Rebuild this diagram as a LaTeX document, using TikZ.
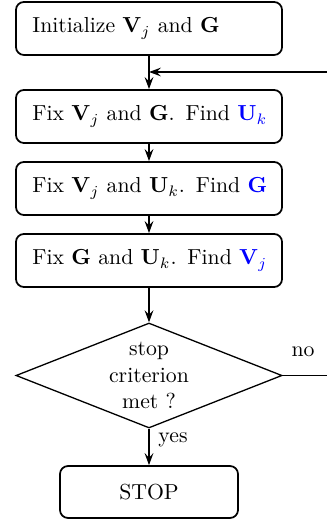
\documentclass[tikz,border=0pt]{standalone}
\usetikzlibrary{arrows.meta,shapes.geometric}
\hbadness=10000 \hfuzz=20pt
\begin{document}
\begin{tikzpicture}[x=0.46pt,y=-0.46pt,
  stepbox/.style={draw,thick,rounded corners=3.7pt,minimum width=122.4pt,minimum height=24.4pt,inner ysep=0pt,inner xsep=7.6pt,text width=107.2pt,align=left},
  decbox/.style={draw,semithick,diamond,aspect=2.53,minimum width=122.4pt,minimum height=48.3pt,inner sep=0pt,align=center},
  arr/.style={thick,-{Stealth[length=5.5pt,width=4pt,inset=2pt]}},
  fb/.style={semithick,-{Stealth[length=5.5pt,width=4pt,inset=2pt]}}]
\useasboundingbox (0,0) rectangle (326,523);
\node[stepbox] (b1) at (149,28.5) {\mbox{Initialize $\mathbf{V}_j$ and $\mathbf{G}$}};
\node[stepbox] (b2) at (149,116.5) {\mbox{Fix $\mathbf{V}_j$ and $\mathbf{G}$. Find \textcolor{blue}{$\mathbf{U}_k$}}};
\node[stepbox] (b3) at (149,188.5) {\mbox{Fix $\mathbf{V}_j$ and $\mathbf{U}_k$. Find \textcolor{blue}{$\mathbf{G}$}}};
\node[stepbox] (b4) at (149,260.5) {\mbox{Fix $\mathbf{G}$ and $\mathbf{U}_k$. Find \textcolor{blue}{$\mathbf{V}_j$}}};
\node[decbox] (dec) at (149,375.5) {stop\\criterion\\met ?};
\node[draw,thick,rounded corners=3.7pt,minimum width=81.9pt,minimum height=23.9pt,inner sep=0pt] (stop) at (149,492) {STOP};
\node (no) at (303,352) {no};
\node (yes) at (173,440) {yes};
\coordinate (c1) at (334,375.5);
\coordinate (join) at (149,72);
\draw[arr] (b1) -- (b2);
\draw[arr] (b2) -- (b3);
\draw[arr] (b3) -- (b4);
\draw[arr] (b4) -- (dec);
\draw[arr] (dec) -- (stop);
\draw[fb] (dec.east) -- (c1) |- (join);
\end{tikzpicture}
\end{document}
